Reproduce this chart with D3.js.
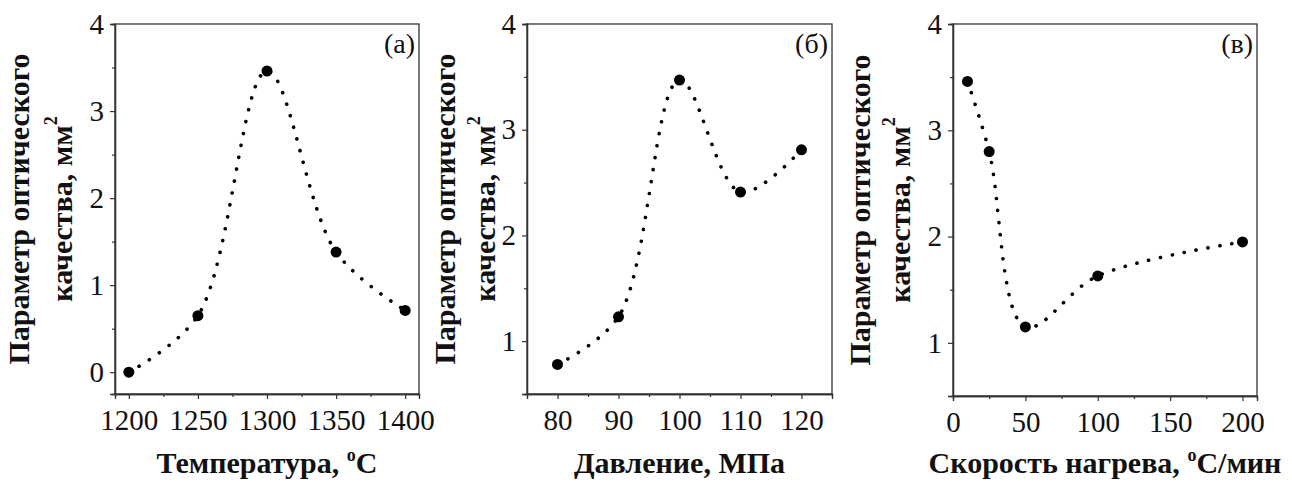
<!DOCTYPE html>
<html>
<head>
<meta charset="utf-8">
<script src="https://cdn.jsdelivr.net/npm/d3@7"></script>
<style>
  body { margin: 0; background: #fff; }
</style>
</head>
<body>
<div class="container"></div>
<script>
// panel (a): temperature
var tempX = [1200, 1250, 1300, 1350, 1400];
var tempY = [0, 0.65, 3.46, 1.38, 0.71];
var tempTicks = [1200, 1250, 1300, 1350, 1400];

// panel (б): pressure
var pressX = [80, 90, 100, 110, 120];
var pressY = [0.78, 1.23, 3.47, 2.41, 2.81];
var pressTicks = [80, 90, 100, 110, 120];

// panel (в): heating rate
var rateX = [10, 25, 50, 100, 200];
var rateY = [3.46, 2.80, 1.15, 1.63, 1.95];
var rateTicks = [0, 50, 100, 150, 200];

var yLine1 = "Параметр оптического";
var yLine2 = "качества, мм";

const WIDTH = 1292;
const HEIGHT = 485;
const FONT = "'Liberation Serif', Tinos, 'Times New Roman', 'DejaVu Serif', serif";

var translate = function (x, y) {
  return "translate(" + x + "," + y + ")";
};

var svg = d3.select('.container').append('svg')
  .attr('width', WIDTH)
  .attr('height', HEIGHT);

svg.append('rect').attr('width', WIDTH).attr('height', HEIGHT).attr('fill', '#fff');

var drawPanel = function (p) {
  var w = p.right - p.left, h = p.bottom - p.top;
  var x = d3.scaleLinear().domain(p.xDomain).range([0, w]);
  var y = d3.scaleLinear().domain(p.yDomain).range([h, 0]);
  var g = svg.append('g').attr('transform', translate(p.left, p.top));

  // frame
  g.append('rect')
    .attr('width', w).attr('height', h)
    .attr('fill', 'none').attr('stroke', '#333').attr('stroke-width', 1.3);

  // minor ticks
  var xMinor = d3.axisBottom(x).tickValues(p.xMinor).tickSize(3).tickFormat('');
  var yMinor = d3.axisLeft(y).tickValues(p.yMinor).tickSize(3).tickFormat('');
  g.append('g').attr('transform', translate(0, h)).call(xMinor);
  g.append('g').call(yMinor);

  var xAxis = d3.axisBottom(x).tickValues(p.xTicks).tickSize(5).tickPadding(6).tickFormat(d3.format('d'));
  var yAxis = d3.axisLeft(y).tickValues([0, 1, 2, 3, 4].filter(function (v) { return v >= p.yDomain[0]; }))
    .tickSize(5).tickPadding(6).tickFormat(d3.format('d'));
  g.append('g').attr('class', 'xa').attr('transform', translate(0, h)).call(xAxis);
  g.append('g').attr('class', 'ya').call(yAxis);

  g.selectAll('g').attr('font-family', FONT);
  g.selectAll('.domain').attr('stroke', '#333').attr('stroke-width', 1.3);
  g.selectAll('.tick line').attr('stroke', '#333').attr('stroke-width', 1.2);
  g.selectAll('.tick text').attr('font-size', 29).attr('fill', '#111')
    .attr('font-family', FONT);
  g.selectAll('.xa .tick text').attr('dy', '0.85em');

  var pts = p.xs.map(function (d, i) { return [d, p.ys[i]]; });
  var line = d3.line()
    .x(function (d) { return x(d[0]); })
    .y(function (d) { return y(d[1]); })
    .curve(d3.curveCatmullRom.alpha(0.5));

  g.append('path')
    .attr('d', line(pts))
    .attr('fill', 'none')
    .attr('stroke', '#000')
    .attr('stroke-width', 3.6)
    .attr('stroke-linecap', 'round')
    .attr('stroke-dasharray', '0.1 12');

  g.selectAll('circle.pt').data(pts).enter().append('circle')
    .attr('class', 'pt')
    .attr('cx', function (d) { return x(d[0]); })
    .attr('cy', function (d) { return y(d[1]); })
    .attr('r', 5.5)
    .attr('fill', '#000');

  // panel letter
  g.append('text')
    .attr('x', w - 4).attr('y', 29)
    .attr('text-anchor', 'end')
    .attr('font-family', FONT)
    .attr('font-size', 28)
    .attr('fill', '#111')
    .text(p.letter);

  // x title
  var xt = svg.append('text')
    .attr('x', p.left + w / 2).attr('y', 473)
    .attr('text-anchor', 'middle')
    .attr('font-family', FONT)
    .attr('font-size', 30).attr('font-weight', 'bold').attr('fill', '#111');
  xt.append('tspan').text(p.xTitle[0]);
  if (p.xTitle.length > 1) {
    xt.append('tspan').attr('dy', -12).attr('font-size', 18).text('o');
    xt.append('tspan').attr('dy', 12).text(p.xTitle[1]);
  }

  // y title, two rotated lines (yl1, yl2 are baselines)
  var cy = p.top + h / 2;
  svg.append('text')
    .attr('transform', 'translate(' + p.yl1 + ',' + cy + ') rotate(-90)')
    .attr('text-anchor', 'middle')
    .attr('font-family', FONT)
    .attr('font-size', 30).attr('font-weight', 'bold').attr('fill', '#111')
    .text(yLine1);
  var t2 = svg.append('text')
    .attr('transform', 'translate(' + p.yl2 + ',' + cy + ') rotate(-90)')
    .attr('text-anchor', 'middle')
    .attr('font-family', FONT)
    .attr('font-size', 30).attr('font-weight', 'bold').attr('fill', '#111');
  t2.append('tspan').text(yLine2);
  t2.append('tspan').attr('dy', -15).attr('font-size', 18).text('2');
};

drawPanel({
  left: 115, right: 419, top: 24, bottom: 394,
  xDomain: [1190, 1410], yDomain: [-0.25, 4],
  xTicks: tempTicks, xMinor: [1225, 1275, 1325, 1375],
  yMinor: [0.5, 1.5, 2.5, 3.5],
  xs: tempX, ys: tempY, letter: '(a)',
  xTitle: ['Температура, ', 'C'],
  yl1: 29, yl2: 72
});

drawPanel({
  left: 527, right: 832, top: 24, bottom: 394,
  xDomain: [75, 125], yDomain: [0.5, 4],
  xTicks: pressTicks, xMinor: [85, 95, 105, 115],
  yMinor: [1.5, 2.5, 3.5],
  xs: pressX, ys: pressY, letter: '(б)',
  xTitle: ['Давление, МПа'],
  yl1: 455, yl2: 495
});

drawPanel({
  left: 953, right: 1257, top: 24, bottom: 396,
  xDomain: [0, 210], yDomain: [0.5, 4],
  xTicks: rateTicks, xMinor: [25, 75, 125, 175],
  yMinor: [1.5, 2.5, 3.5],
  xs: rateX, ys: rateY, letter: '(в)',
  xTitle: ['Скорость нагрева, ', 'C/мин'],
  yl1: 870, yl2: 910
});
</script>
</body>
</html>
